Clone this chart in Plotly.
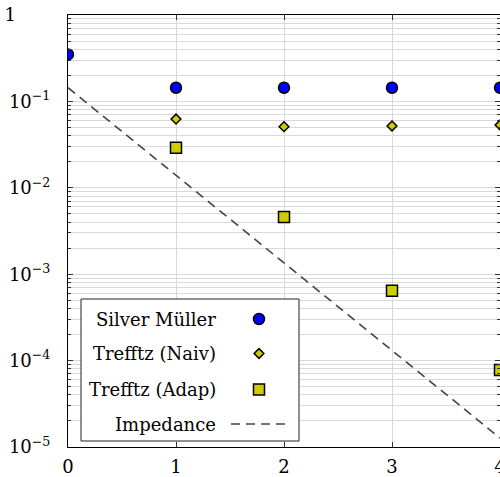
import plotly.graph_objects as go

# ---- data ----
x_vals = [0, 1, 2, 3, 4]
silver_x = [0, 1, 2, 3, 4]
silver_y = [0.35, 0.144, 0.144, 0.144, 0.144]
naiv_x = [1, 2, 3, 4]
naiv_y = [0.0625, 0.051, 0.052, 0.0533]
adap_x = [1, 2, 3, 4]
adap_y = [0.0291, 0.0046, 0.000645, 0.000078]
imp_x = [0, 1, 2, 3, 4]
imp_y = [0.144, 0.0140, 0.00136, 0.000132, 0.0000127]

legend_labels = ["Silver Müller", "Trefftz (Naiv)", "Trefftz (Adap)", "Impedance"]
y_tickvals = [1e-5, 1e-4, 1e-3, 1e-2, 1e-1, 1]
y_ticktext = ["10<sup>−5</sup>", "10<sup>−4</sup>", "10<sup>−3</sup>",
              "10<sup>−2</sup>", "10<sup>−1</sup>", "1" + "\u00a0" * 6]

FONT = "DejaVu Serif"
FS = 18
BLUE = "#0000ff"
YEL = "#cccc00"
GRID = "#d9d9d9"

fig = go.Figure()

fig.add_trace(go.Scatter(x=imp_x, y=imp_y, mode="lines",
                         line=dict(color="#444444", width=1.6, dash="9px,6px"),
                         showlegend=False))
fig.add_trace(go.Scatter(x=silver_x, y=silver_y, mode="markers",
                         marker=dict(symbol="circle", size=11, color=BLUE,
                                     line=dict(color="black", width=1.5)),
                         showlegend=False))
fig.add_trace(go.Scatter(x=naiv_x, y=naiv_y, mode="markers",
                         marker=dict(symbol="diamond", size=7.5, color=YEL,
                                     line=dict(color="black", width=1.5)),
                         showlegend=False))
fig.add_trace(go.Scatter(x=adap_x, y=adap_y, mode="markers",
                         marker=dict(symbol="square", size=11, color=YEL,
                                     line=dict(color="black", width=1.5)),
                         showlegend=False))

# ---- hand-drawn legend (symbols right of text, like pgfplots) on an overlay axis in pixel units ----
leg_box_x = [81, 299, 299, 81, 81]
leg_box_y = [299, 299, 441, 441, 299]
leg_rows_y = [319, 353.5, 389.5, 424]
leg_text_x = 218
leg_sym_x = 259
fig.add_trace(go.Scatter(x=leg_box_x, y=leg_box_y, xaxis="x2", yaxis="y2", mode="lines",
                         fill="toself", fillcolor="white",
                         line=dict(color="#222222", width=1),
                         showlegend=False, hoverinfo="skip"))
fig.add_trace(go.Scatter(x=[leg_sym_x], y=[leg_rows_y[0]], xaxis="x2", yaxis="y2", mode="markers",
                         marker=dict(symbol="circle", size=11, color=BLUE,
                                     line=dict(color="black", width=1.5)),
                         showlegend=False, hoverinfo="skip"))
fig.add_trace(go.Scatter(x=[leg_sym_x], y=[leg_rows_y[1]], xaxis="x2", yaxis="y2", mode="markers",
                         marker=dict(symbol="diamond", size=7.5, color=YEL,
                                     line=dict(color="black", width=1.5)),
                         showlegend=False, hoverinfo="skip"))
fig.add_trace(go.Scatter(x=[leg_sym_x], y=[leg_rows_y[2]], xaxis="x2", yaxis="y2", mode="markers",
                         marker=dict(symbol="square", size=11, color=YEL,
                                     line=dict(color="black", width=1.5)),
                         showlegend=False, hoverinfo="skip"))
fig.add_trace(go.Scatter(x=[231, 288], y=[leg_rows_y[3]] * 2, xaxis="x2", yaxis="y2", mode="lines",
                         line=dict(color="#444444", width=1.6, dash="9px,6px"),
                         showlegend=False, hoverinfo="skip"))

for lab, yy in zip(legend_labels, leg_rows_y):
    fig.add_annotation(x=leg_text_x, y=yy, xref="x2", yref="y2", text=lab,
                       showarrow=False, xanchor="right", yanchor="middle",
                       font=dict(family=FONT, size=FS, color="black"))

minor_vals = [m * 10 ** e for e in range(-5, 0) for m in range(2, 10)]

fig.update_layout(
    width=500, height=477,
    margin=dict(l=68, r=0, t=15, b=30, autoexpand=False),
    plot_bgcolor="white", paper_bgcolor="white",
    font=dict(family=FONT, size=FS, color="black"),
    xaxis=dict(range=[0, 4.0], tickvals=x_vals, ticks="inside", ticklen=5,
               tickcolor="#333333", showline=True, linecolor="black", linewidth=1,
               mirror="allticks", showgrid=True, gridcolor=GRID, gridwidth=1,
               zeroline=False, tickfont=dict(family=FONT, size=FS, color="black"),
               ticklabelstandoff=3, ticklabeloverflow="allow", automargin=False),
    yaxis=dict(type="log", range=[-5, 0], tickvals=y_tickvals, ticktext=y_ticktext,
               ticks="inside", ticklen=5, tickcolor="#333333", showline=True,
               linecolor="black", linewidth=1, mirror="allticks", showgrid=True,
               gridcolor=GRID, gridwidth=1, zeroline=False,
               tickfont=dict(family=FONT, size=FS, color="black"),
               ticklabelstandoff=13, ticklabeloverflow="allow", automargin=False,
               minor=dict(tickvals=minor_vals, ticks="inside", ticklen=3,
                          tickcolor="#333333", showgrid=True, gridcolor=GRID, gridwidth=1)),
    xaxis2=dict(overlaying="x", range=[68, 500], visible=False, fixedrange=True),
    yaxis2=dict(overlaying="y", range=[447, 15], visible=False, fixedrange=True),
)

fig.write_html("out.html")
